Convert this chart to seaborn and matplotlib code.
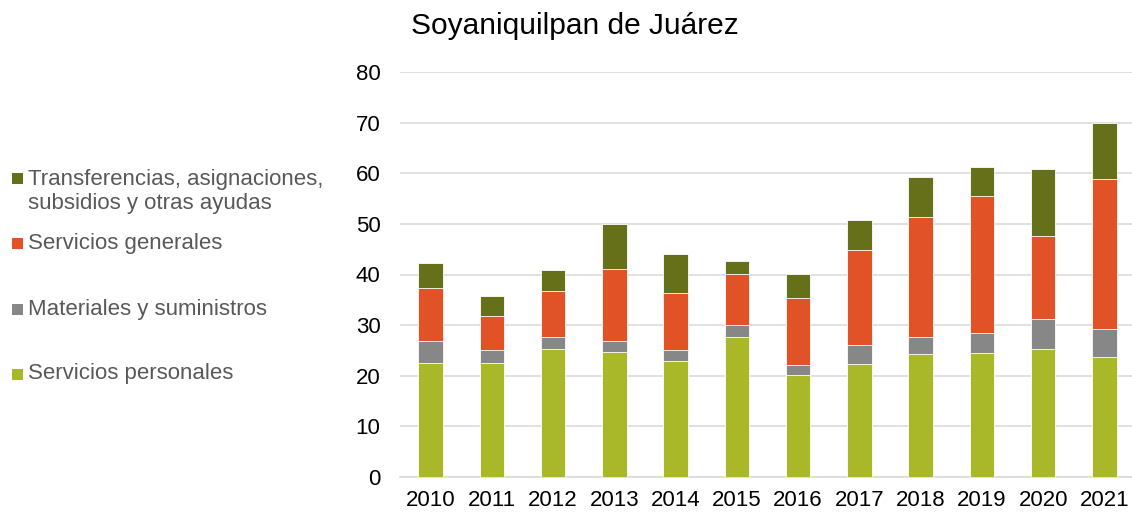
import numpy as np
import pandas as pd
import matplotlib
matplotlib.use("Agg")
import matplotlib.pyplot as plt
import seaborn as sns
from matplotlib.patches import Rectangle

years = ["2010", "2011", "2012", "2013", "2014", "2015",
         "2016", "2017", "2018", "2019", "2020", "2021"]
servicios_personales = [22.5, 22.6, 25.2, 24.7, 23.0, 27.6, 20.2, 22.4, 24.2, 24.4, 25.3, 23.7]
materiales = [4.4, 2.5, 2.5, 2.2, 2.0, 2.4, 2.0, 3.6, 3.5, 4.0, 5.9, 5.6]
servicios_generales = [10.5, 6.8, 9.1, 14.1, 11.4, 10.1, 13.2, 18.9, 23.6, 27.2, 16.5, 29.5]
transferencias = [4.8, 3.8, 4.1, 9.0, 7.6, 2.6, 4.7, 5.9, 8.0, 5.7, 13.1, 11.2]

series_names = ["Servicios personales", "Materiales y suministros",
                "Servicios generales",
                "Transferencias, asignaciones,\nsubsidios y otras ayudas"]
colors = ["#A8B829", "#878787", "#E15327", "#667018"]

title = "Soyaniquilpan de Juárez"

sns.set_theme(style="white")
plt.rcParams['font.family'] = ['Liberation Sans', 'DejaVu Sans']

df = pd.DataFrame({"year": years,
                   "s0": servicios_personales,
                   "s1": materiales,
                   "s2": servicios_generales,
                   "s3": transferencias})
# cumulative heights for stacking
cum = df[["s0", "s1", "s2", "s3"]].cumsum(axis=1)

fig = plt.figure(figsize=(11.32, 5.12), dpi=100)
ax = fig.add_axes([400 / 1132, 1 - 477 / 512, 735 / 1132, 405 / 512])

# draw from the top layer down so each shorter bar covers the lower part
for i in [3, 2, 1, 0]:
    sns.barplot(x=df["year"], y=cum[f"s{i}"], color=colors[i], saturation=1,
                width=0.40, edgecolor="white", linewidth=0.6, ax=ax, zorder=3)

ax.set_ylim(0, 80)
ax.set_xlim(-0.5, 11.5)
ax.set_yticks(np.arange(0, 81, 10))
ax.yaxis.grid(True, color="#D9D9D9", linewidth=1.1, zorder=0)
ax.set_axisbelow(True)
for s in ["top", "right", "left"]:
    ax.spines[s].set_visible(False)
ax.spines["bottom"].set_color("#D9D9D9")
ax.spines["bottom"].set_linewidth(1.1)
ax.set_xlabel("")
ax.set_ylabel("")
ax.tick_params(axis="both", length=0, labelsize=16, colors="black")
ax.tick_params(axis="y", pad=14)
ax.tick_params(axis="x", pad=9.5)

fig.text(0.508, 1 - 26 / 512, title, ha="center", va="center", fontsize=21.5, color="black")

# legend drawn by hand to mimic the uneven spacing of the original
legend_rows = [374, 309, 243, 178]
for i, name in enumerate(series_names):
    yc = legend_rows[i]
    fig.patches.append(Rectangle((11.5 / 1132, 1 - (yc + 5.5) / 512), 11 / 1132, 11 / 512,
                                 transform=fig.transFigure, facecolor=colors[i],
                                 edgecolor="none", figure=fig))
    ty = yc + 13.5 if "\n" in name else yc
    fig.text(28 / 1132, 1 - ty / 512, name, ha="left", va="center",
             fontsize=16, color="#595959", linespacing=1.2)

fig.savefig("out.png", dpi=100)
